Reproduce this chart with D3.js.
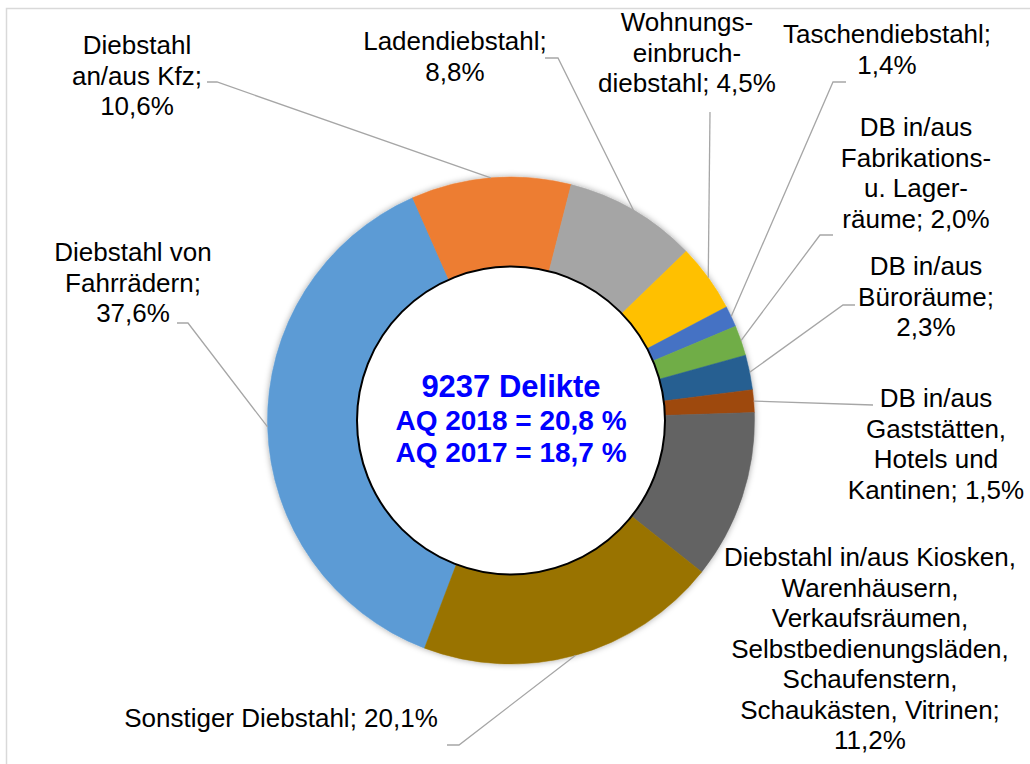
<!DOCTYPE html>
<html>
<head>
<meta charset="utf-8">
<script src="https://cdn.jsdelivr.net/npm/d3@7"></script>
<style>
  body { margin: 0; background: #fff; }
  svg { display: block; }
  text { font-family: "Liberation Sans", Arial, sans-serif; }
</style>
</head>
<body>
<div id="chart"></div>
<script>
// data, in the order of the workbook (first slice = Fahrräder)
var categories = [
  "Diebstahl von Fahrrädern",
  "Diebstahl an/aus Kfz",
  "Ladendiebstahl",
  "Wohnungseinbruchdiebstahl",
  "Taschendiebstahl",
  "DB in/aus Fabrikations- u. Lagerräume",
  "DB in/aus Büroräume",
  "DB in/aus Gaststätten, Hotels und Kantinen",
  "Diebstahl in/aus Kiosken, Warenhäusern, Verkaufsräumen, Selbstbedienungsläden, Schaufenstern, Schaukästen, Vitrinen",
  "Sonstiger Diebstahl"
];
var values = [37.6, 10.6, 8.8, 4.5, 1.4, 2.0, 2.3, 1.5, 11.2, 20.1];
// label text as wrapped in the chart, {v} = value
var labelLines = [
  ["Diebstahl von", "Fahrrädern;", "{v}"],
  ["Diebstahl", "an/aus Kfz;", "{v}"],
  ["Ladendiebstahl;", "{v}"],
  ["Wohnungs-", "einbruch-", "diebstahl; {v}"],
  ["Taschendiebstahl;", "{v}"],
  ["DB in/aus", "Fabrikations-", "u. Lager-", "räume; {v}"],
  ["DB in/aus", "Büroräume;", "{v}"],
  ["DB in/aus", "Gaststätten,", "Hotels und", "Kantinen; {v}"],
  ["Diebstahl in/aus Kiosken,", "Warenhäusern,", "Verkaufsräumen,", "Selbstbedienungsläden,", "Schaufenstern,", "Schaukästen, Vitrinen;", "{v}"],
  ["Sonstiger Diebstahl; {v}"]
];
var centerLines = ["9237 Delikte", "AQ 2018 = 20,8 %", "AQ 2017 = 18,7 %"];

var colors = ["#5B9BD5", "#ED7D31", "#A5A5A5", "#FFC000", "#4472C4",
              "#70AD47", "#255E91", "#9E480E", "#636363", "#997300"];

// layout of the hand placed labels (x = centre, y = first baseline)
var labelPos = [
  {x: 133, y: 261}, {x: 137, y: 54}, {x: 455, y: 50}, {x: 687, y: 31},
  {x: 887, y: 43}, {x: 916, y: 136}, {x: 926, y: 275}, {x: 936, y: 407},
  {x: 870, y: 566}, {x: 281, y: 727}
];
// where each leader line leaves its label (tick start, tick end), null = no line
var leaderStart = [
  [[177, 323], [188, 323]],
  [[207, 82], [217, 82]],
  [[545, 58], [558, 58]],
  [[710, 112], [710, 112]],
  [[846, 82], [833, 82]],
  [[833, 235], [820, 235]],
  [[855, 305], [843, 305]],
  [[873, 405], [873, 405]],
  null,
  [[447, 745], [459, 745]]
];

var width = 1030, height = 764,
    cx = 511, cy = 420.5,
    rOuter = 243.5, rInner = 154,
    lineH = 30.5;

var fmt = function(v) { return d3.format(".1f")(v).replace(".", ",") + "%"; };

var svg = d3.select("#chart").append("svg")
  .attr("width", width)
  .attr("height", height);

var defs = svg.append("defs");
var f = defs.append("filter").attr("id", "shadow")
  .attr("x", "-20%").attr("y", "-20%").attr("width", "140%").attr("height", "140%");
f.append("feDropShadow")
  .attr("dx", 0).attr("dy", 0)
  .attr("stdDeviation", 3)
  .attr("flood-color", "#000")
  .attr("flood-opacity", 0.35);

// chart area frame
svg.append("rect")
  .attr("x", 6.5).attr("y", 8.5)
  .attr("width", width).attr("height", height)
  .style("fill", "none")
  .style("stroke", "#D9D9D9")
  .style("stroke-width", 1.5);

var a0 = 200.8 * Math.PI / 180;
var pie = d3.pie().sort(null).value(function(d) { return d; })
  .startAngle(a0).endAngle(a0 + 2 * Math.PI);
var arcs = pie(values);

var arc = d3.arc().innerRadius(rInner - 2).outerRadius(rOuter);
var edge = d3.arc().innerRadius(rOuter).outerRadius(rOuter);

var g = svg.append("g").attr("transform", "translate(" + cx + "," + cy + ")");

g.append("g")
  .attr("filter", "url(#shadow)")
  .selectAll("path")
  .data(arcs)
  .enter()
  .append("path")
  .attr("d", arc)
  .style("fill", function(d, i) { return colors[i]; })
  .style("stroke", function(d, i) { return colors[i]; })
  .style("stroke-width", 0.5);

// hole with black outline
g.append("circle")
  .attr("r", rInner)
  .style("fill", "#fff")
  .style("stroke", "#000")
  .style("stroke-width", 2);

// leader lines
svg.append("g").selectAll("path")
  .data(arcs.filter(function(d, i) { return leaderStart[i]; }))
  .enter()
  .append("path")
  .attr("d", function(d) {
    var s = leaderStart[d.index], c = edge.centroid(d);
    return "M" + s[0] + "L" + s[1] + "L" + (c[0] + cx) + "," + (c[1] + cy);
  })
  .style("fill", "none")
  .style("stroke", "#A6A6A6")
  .style("stroke-width", 1.3);

// data labels
var labels = svg.append("g").selectAll("text")
  .data(arcs)
  .enter()
  .append("text")
  .attr("text-anchor", "middle")
  .style("font-size", "26px")
  .style("fill", "#000");

labels.each(function(d, i) {
  var t = d3.select(this);
  labelLines[i].forEach(function(l, k) {
    t.append("tspan")
      .attr("x", labelPos[i].x)
      .attr("y", labelPos[i].y + k * lineH)
      .text(l.replace("{v}", fmt(d.data)));
  });
});

// centre text
svg.append("g").selectAll("text")
  .data(centerLines)
  .enter()
  .append("text")
  .attr("x", cx)
  .attr("y", function(d, i) { return 397 + i * 32.5; })
  .attr("text-anchor", "middle")
  .style("font-weight", "bold")
  .style("font-size", function(d, i) { return i == 0 ? "31px" : "28px"; })
  .style("fill", "#0000FF")
  .text(function(d) { return d; });
</script>
</body>
</html>
